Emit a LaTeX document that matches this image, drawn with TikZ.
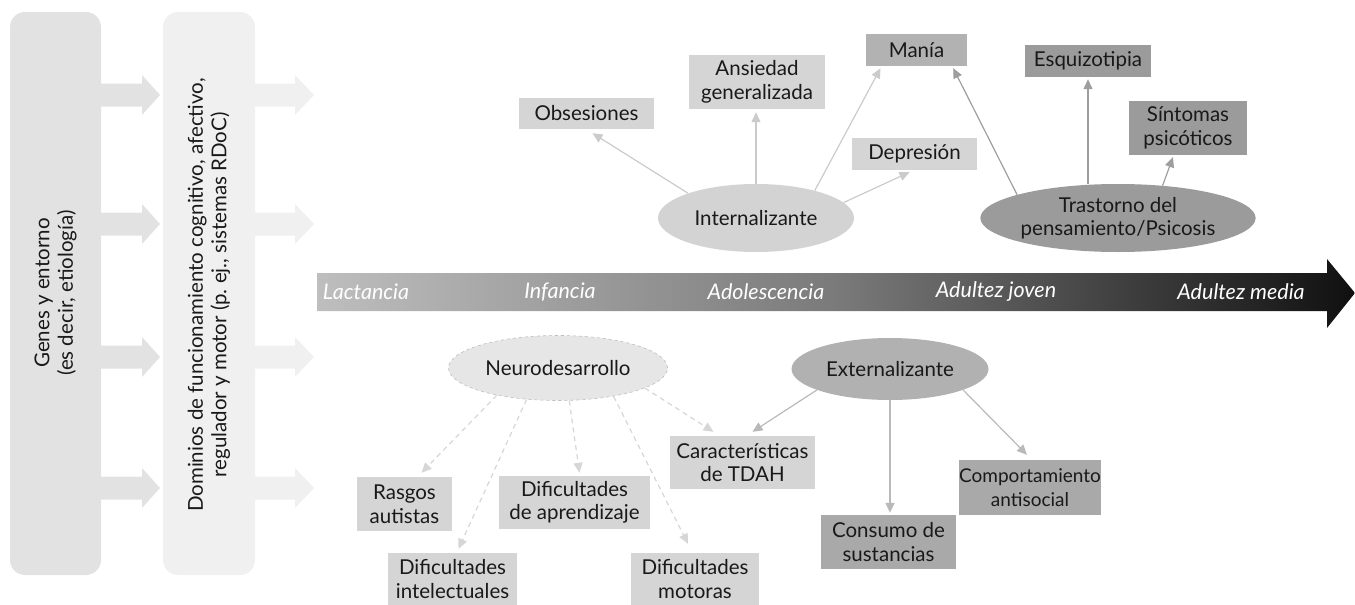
\documentclass[tikz,border=0pt]{standalone}
\usepackage{fontspec}
\setmainfont{Lato}
\usetikzlibrary{shapes.geometric,arrows.meta,calc}

\definecolor{genfill}{HTML}{E2E2E2}
\definecolor{domfill}{HTML}{F0F0F0}
\definecolor{lightbox}{HTML}{D5D5D5}
\definecolor{midbox}{HTML}{B2B2B2}
\definecolor{darkbox}{HTML}{9B9B9B}
\definecolor{extbox}{HTML}{A9A9A9}
\definecolor{intfill}{HTML}{D3D3D3}
\definecolor{extfill}{HTML}{B1B1B1}
\definecolor{neufill}{HTML}{E6E6E6}
\definecolor{neuline}{HTML}{BDBDBD}
\definecolor{intarrow}{HTML}{CBCBCB}
\definecolor{psyarrow}{HTML}{9E9E9E}
\definecolor{neuarrow}{HTML}{D6D6D6}
\definecolor{extarrow}{HTML}{B9B9B9}
\definecolor{tlA}{HTML}{BEBEBE}
\definecolor{tlB}{HTML}{7A7A7A}
\definecolor{tlC}{HTML}{101010}

% timeline gradient: the path's bounding box maps to 25bp..75bp
\pgfdeclarehorizontalshading{timeline}{100bp}{%
  color(0bp)=(tlA); color(25bp)=(tlA); color(50bp)=(tlB);
  color(75bp)=(tlC); color(100bp)=(tlC)}

\newcommand{\lab}{\fontsize{20.5}{23.5}\selectfont}

\tikzset{
  lbl/.style={rectangle, inner sep=0pt, align=center, font=\lab, text=black!90},
  lightlbl/.style={lbl, fill=lightbox},
  midlbl/.style={lbl, fill=midbox},
  darklbl/.style={lbl, fill=darkbox},
  extlbl/.style={lbl, fill=extbox},
  blob/.style={ellipse, inner sep=0pt, align=center, font=\lab, text=black!90},
  tip/.style={-{Triangle[length=10pt,width=9pt]}, line width=1.2pt},
  intarr/.style={tip, draw=intarrow},
  psyarr/.style={tip, draw=psyarrow},
  neuarr/.style={tip, draw=neuarrow, dash pattern=on 5pt off 4pt},
  extarr/.style={tip, draw=extarrow},
  period/.style={inner sep=0pt, font=\fontsize{21.5}{25}\selectfont\itshape, text=white}
}

\begin{document}
\begin{tikzpicture}[x=1pt,y=-1pt]
\useasboundingbox (0,0) rectangle (1355,605);

% ---- causal chain on the left ----
\fill[genfill, rounded corners=15pt] (10,12) rectangle (101,575);
\fill[domfill, rounded corners=15pt] (163,12) rectangle (255,575);
\foreach \yy in {95,224,357,488} {
  \fill[genfill] (101,\yy-11.5) -- (142,\yy-11.5) -- (142,\yy-20) -- (160,\yy)
        -- (142,\yy+20) -- (142,\yy+11.5) -- (101,\yy+11.5) -- cycle;
  \fill[domfill] (255,\yy-11.5) -- (295,\yy-11.5) -- (295,\yy-20) -- (314,\yy)
        -- (295,\yy+20) -- (295,\yy+11.5) -- (255,\yy+11.5) -- cycle;
}
\node[lbl, rotate=90] (genes) at (55.5,293) {Genes y entorno\\(es decir, etiología)};
\node[lbl, rotate=90] (domin) at (209,295)
  {Dominios de funcionamiento cognitivo, afectivo,\\regulador y motor (p.~ej., sistemas RDoC)};

% ---- developmental timeline ----
\shade[shading=timeline] (317,273) -- (1327,273) -- (1327,259) -- (1355,293)
      -- (1327,328) -- (1327,311) -- (317,311) -- cycle;
\node[period] (lact) at (366,292) {Lactancia};
\node[period] (infa) at (560,292) {Infancia};
\node[period] (adol) at (766,292) {Adolescencia};
\node[period] (ajov) at (996,292) {Adultez joven};
\node[period] (amed) at (1241,292) {Adultez media};

% ---- upper spectrum ----
\node[blob, fill=intfill, minimum width=196pt, minimum height=68pt] (int) at (756,218) {Internalizante};
\node[blob, fill=darkbox, minimum width=264pt, minimum height=68pt] (psy) at (1118,218)
  {Trastorno del\\pensamiento/Psicosis};

\node[lightlbl, minimum width=135pt, minimum height=31pt] (obs) at (586.5,113.5) {Obsesiones};
\node[lightlbl, minimum width=136pt, minimum height=54pt] (ans) at (757,82) {Ansiedad\\generalizada};
\node[midlbl, minimum width=101pt, minimum height=32pt] (mania) at (916.5,50) {Manía};
\node[lightlbl, minimum width=125pt, minimum height=32pt] (dep) at (914.5,154) {Depresión};
\node[darklbl, minimum width=126pt, minimum height=32pt] (esq) at (1088,61) {Esquizotipia};
\node[darklbl, minimum width=118pt, minimum height=54pt] (sint) at (1188,128) {Síntomas\\psicóticos};

\draw[intarr] (int.160) -- ($(obs.south)+(6,4)$);
\draw[intarr, shorten >=3pt] (int.north) -- (int.north |- ans.south);
\draw[intarr] (int.25) -- ($(mania.south)+(-36,2)$);
\draw[intarr] (int.10) -- ($(dep.south)+(-5,2)$);

\draw[psyarr] (psy.167) -- ($(mania.south east)+(-14,2)$);
\draw[psyarr, shorten >=2pt] (psy.north -| esq.south) -- (esq.south);
\draw[psyarr] (psy.36) -- ($(sint.south)+(-15,2)$);

% ---- lower spectrum ----
\node[blob, fill=neufill, draw=neuline, dashed, line width=0.6pt,
      minimum width=219pt, minimum height=65pt] (neu) at (558,368) {Neurodesarrollo};
\node[blob, fill=extfill, minimum width=197pt, minimum height=62pt] (ext) at (890,369) {Externalizante};

\node[lightlbl, minimum width=95pt, minimum height=54pt] (ras) at (404.5,504) {Rasgos\\autistas};
\node[lightlbl, minimum width=151pt, minimum height=53pt] (dapr) at (574.5,502.5) {Dificultades\\de aprendizaje};
\node[lightlbl, minimum width=129pt, minimum height=52pt] (dint) at (452.5,579) {Dificultades\\intelectuales};
\node[lightlbl, minimum width=128pt, minimum height=52pt] (dmot) at (695,579) {Dificultades\\motoras};
\node[lightlbl, minimum width=145pt, minimum height=53pt] (tdah) at (742.5,462.5) {Características\\de TDAH};
\node[extlbl, minimum width=135pt, minimum height=54pt] (cons) at (888.5,542) {Consumo de\\sustancias};
\node[extlbl, font=\fontsize{19}{23.5}\selectfont, minimum width=140pt, minimum height=55pt]
  (comp) at (1030,487.5) {Comportamiento\\antisocial};

\draw[neuarr] (neu.204) -- ($(ras.north)+(17,-4)$);
\draw[neuarr] (neu.225) -- ($(dint.north)+(6,-4)$);
\draw[neuarr] (neu.289) -- ($(dapr.north)+(5,-3)$);
\draw[neuarr] (neu.333) -- ($(dmot.north)+(-7,-9)$);
\draw[neuarr] (neu.347) -- ($(tdah.north)+(-29,-4)$);

\draw[extarr] (ext.196) -- ($(tdah.north)+(10,-4)$);
\draw[extarr, shorten >=2pt] (ext.south) -- (ext.south |- cons.north);
\draw[extarr] (ext.344) -- ($(comp.north)+(-3,-5)$);
\end{tikzpicture}
\end{document}
